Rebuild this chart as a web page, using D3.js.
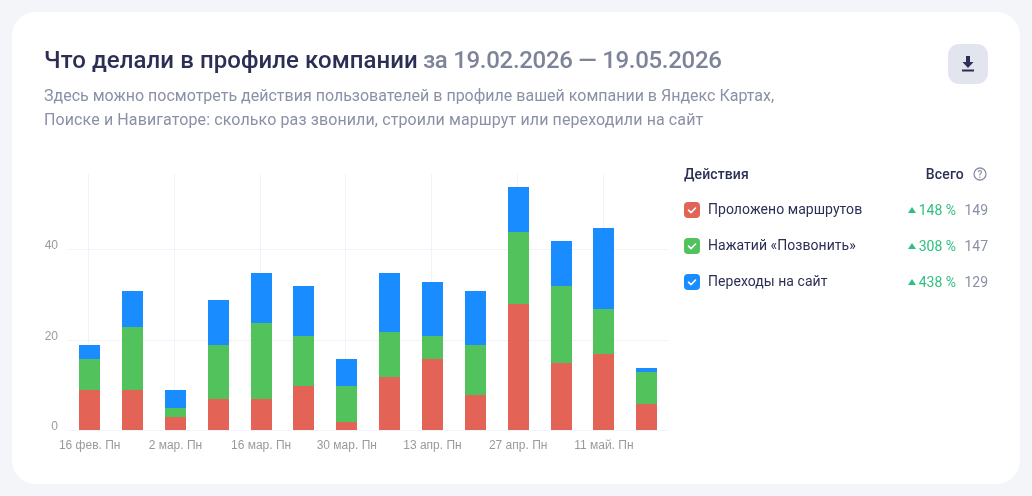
<!DOCTYPE html>
<html lang="ru">
<head>
<meta charset="utf-8">
<title>Что делали в профиле компании</title>
<script src="https://cdn.jsdelivr.net/npm/d3@7/dist/d3.min.js"></script>
<style>
  html, body { margin: 0; padding: 0; background: #f4f5f9; overflow: hidden; }
  svg { display: block; will-change: transform; }
  text { font-family: Roboto, sans-serif; }
  .axis text { font-family: "Liberation Sans", sans-serif; font-size: 12px; fill: #9a9a9a; }
</style>
</head>
<body>
<svg id="chart" width="1032" height="496"></svg>
<script>
// Weekly periods of the report
const weeks = ["16 фев. Пн", "23 фев. Пн", "2 мар. Пн", "9 мар. Пн", "16 мар. Пн", "23 мар. Пн", "30 мар. Пн",
               "6 апр. Пн", "13 апр. Пн", "20 апр. Пн", "27 апр. Пн", "4 май. Пн", "11 май. Пн", "18 май. Пн"];
const routes = [9, 9, 3, 7, 7, 10, 2, 12, 16, 8, 28, 15, 17, 6];
const calls  = [7, 14, 2, 12, 17, 11, 8, 10, 5, 11, 16, 17, 10, 7];
const visits = [3, 8, 4, 10, 11, 11, 6, 13, 12, 12, 10, 10, 18, 1];
const seriesKeys = ["routes", "calls", "visits"];
const seriesNames = ["Проложено маршрутов", "Нажатий «Позвонить»", "Переходы на сайт"];
const seriesColors = ["#e36357", "#52c25d", "#198cff"];
const seriesGrowth = ["148 %", "308 %", "438 %"];
const seriesTotals = [149, 147, 129];
const yTicks = [0, 20, 40];
const labelledWeeks = weeks.filter((_, i) => i % 2 === 0);

const ink = "#2b2f55", muted = "#8a90a6", up = "#2fbf7f";
const svg = d3.select("#chart");

// Card
svg.append("rect").attr("x", 12).attr("y", 12).attr("width", 1008).attr("height", 472)
  .attr("rx", 24).attr("fill", "#fff");

// Heading
const heading = svg.append("text").attr("x", 44).attr("y", 68)
  .attr("font-size", 24).attr("font-weight", 500);
heading.append("tspan").attr("fill", ink).attr("letter-spacing", 0.07).text("Что делали в профиле компании");
heading.append("tspan").attr("fill", "#7d8398").attr("dx", 5).attr("letter-spacing", -0.3).text("за 19.02.2026 — 19.05.2026");
svg.append("text").attr("x", 44).attr("y", 101).attr("font-size", 16).attr("fill", muted)
  .text("Здесь можно посмотреть действия пользователей в профиле вашей компании в Яндекс Картах,");
svg.append("text").attr("x", 44).attr("y", 125).attr("font-size", 16).attr("fill", muted)
  .attr("letter-spacing", 0.11)
  .text("Поиске и Навигаторе: сколько раз звонили, строили маршрут или переходили на сайт");

// Download button
const btn = svg.append("g").attr("transform", "translate(948,44)");
btn.append("rect").attr("width", 40).attr("height", 40).attr("rx", 11).attr("fill", "#e2e4ee");
btn.append("path").attr("fill", ink)
  .attr("d", "M18 12h4v6h3.5L20 24l-5.5-6H18z M14 25.5h12v2H14z");

// Scales: value zero sits one pixel below the axis line
const x = d3.scalePoint().domain(weeks).range([89.7, 646.7]);
const y = d3.scaleLinear().domain([0, 40]).range([431, 250.2]);
const baseY = y(0) - 1;
const barWidth = 21;

// Grid
const gridX = d => Math.floor(x(d) - 0.8) + 0.5;
const gridY = d => Math.round(y(d) - 1) + 0.5;
const grid = svg.append("g").attr("stroke", "#f1f3fc").attr("fill", "none");
grid.selectAll("line.v").data(labelledWeeks).join("line").attr("class", "v")
  .attr("x1", gridX).attr("x2", gridX)
  .attr("y1", 174).attr("y2", 430.5);
grid.selectAll("line.h").data(yTicks).join("line").attr("class", "h")
  .attr("x1", 68).attr("x2", 668)
  .attr("y1", gridY).attr("y2", gridY);

// Stacked bars
const rows = weeks.map((w, i) => ({ week: w, routes: routes[i], calls: calls[i], visits: visits[i] }));
const stacked = d3.stack().keys(seriesKeys)(rows);
svg.append("g").attr("shape-rendering", "crispEdges").selectAll("g").data(stacked).join("g")
  .attr("fill", (_, i) => seriesColors[i])
  .selectAll("rect").data(d => d).join("rect")
  .attr("x", d => x(d.data.week) - barWidth / 2)
  .attr("width", barWidth)
  .attr("y", d => y(d[1]))
  .attr("height", d => Math.min(y(d[0]), baseY) - y(d[1]));

// Axes
const axisY = d3.axisLeft(y).tickValues(yTicks).tickSize(0).tickPadding(0);
svg.append("g").attr("class", "axis").attr("transform", "translate(58,0)").call(axisY)
  .call(g => g.select(".domain").remove())
  .call(g => g.selectAll("text").attr("dy", -1.5));
const axisX = d3.axisBottom(x).tickValues(labelledWeeks).tickSize(0).tickPadding(0);
svg.append("g").attr("class", "axis").attr("transform", "translate(-0.5,440)").call(axisX)
  .call(g => g.select(".domain").remove());

// Legend table
svg.append("text").attr("x", 684).attr("y", 179).attr("font-size", 14).attr("font-weight", 500)
  .attr("letter-spacing", 0.1).attr("fill", ink).text("Действия");
svg.append("text").attr("x", 964).attr("y", 179).attr("text-anchor", "end").attr("font-size", 14)
  .attr("font-weight", 500).attr("letter-spacing", 0.2).attr("fill", ink).text("Всего");
const help = svg.append("g").attr("transform", "translate(980,174)");
help.append("circle").attr("r", 6).attr("fill", "none").attr("stroke", muted).attr("stroke-width", 1.3);
help.append("text").attr("text-anchor", "middle").attr("y", 3.5).attr("font-size", 10).attr("font-weight", 500)
  .attr("fill", muted).text("?");

const legend = svg.append("g").selectAll("g").data(seriesNames).join("g")
  .attr("transform", (_, i) => `translate(684,${202 + i * 36})`);
legend.append("rect").attr("width", 16).attr("height", 16).attr("rx", 4)
  .attr("fill", (_, i) => seriesColors[i]);
legend.append("path").attr("d", "M4.5 8.2l2.5 2.4 4.5-4.6").attr("fill", "none")
  .attr("stroke", "#fff").attr("stroke-width", 1.6).attr("stroke-linecap", "round").attr("stroke-linejoin", "round");
legend.append("text").attr("x", 24).attr("y", 12).attr("font-size", 14).attr("letter-spacing", 0.05)
  .attr("fill", ink).text(d => d);
legend.append("path").attr("d", "M224 11h8l-4-6z").attr("fill", up);
legend.append("text").attr("x", 272).attr("y", 13).attr("text-anchor", "end").attr("font-size", 14)
  .attr("fill", up).text((_, i) => seriesGrowth[i]);
legend.append("text").attr("x", 304).attr("y", 13).attr("text-anchor", "end").attr("font-size", 14)
  .attr("fill", muted).text((_, i) => seriesTotals[i]);
</script>
</body>
</html>
